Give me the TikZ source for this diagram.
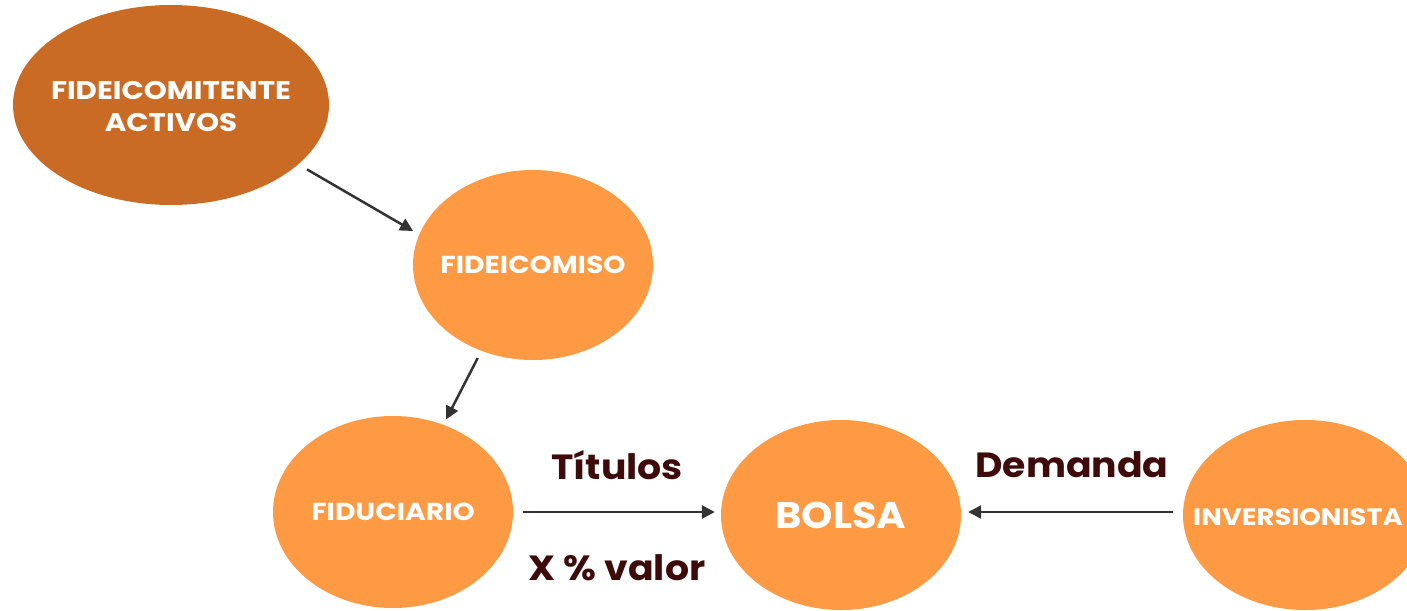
\documentclass[tikz,border=0pt]{standalone}
\usepackage{fontspec}
\setmainfont{Poppins}
\newfontfamily\capsfont{Poppins}[FakeStretch=1.15]
\newfontfamily\lblfont{Poppins}[FakeStretch=1.08]
\usetikzlibrary{shapes.geometric,arrows.meta}
\definecolor{darkor}{HTML}{C96B25}
\definecolor{lightor}{HTML}{FF9A44}
\definecolor{maroon}{HTML}{3F0A0A}
\definecolor{arrowc}{HTML}{333333}
\newcommand{\zb}[1]{\makebox[0pt]{#1}}
\tikzset{
  blob/.style={ellipse, inner sep=0pt, text=white, align=center},
  conn/.style={draw=arrowc, line width=2.5pt, -{Triangle[length=13pt,width=13pt]}},
  lbl/.style={text=maroon, font=\lblfont\fontsize{35}{40}\selectfont\bfseries, inner sep=0pt}
}
\begin{document}
\begin{tikzpicture}[x=1pt,y=-1pt]
\useasboundingbox (0,0) rectangle (1407,610);
\clip (0,0) rectangle (1407,610);
\node[blob, fill=darkor, minimum width=316pt, minimum height=200pt, font=\capsfont\fontsize{25.5}{32}\selectfont\bfseries] (fc) at (171,105) {};
\node[text=white, align=center, inner sep=0pt, font=\capsfont\fontsize{25.5}{32}\selectfont\bfseries] (fct) at (171,107) {FIDEICOMITENTE\\ACTIVOS};
\node[blob, fill=lightor, minimum width=240pt, minimum height=190pt, font=\capsfont\fontsize{24.5}{26}\selectfont\bfseries] (fm) at (533,265) {\zb{FIDEICOMISO}};
\node[blob, fill=lightor, minimum width=240pt, minimum height=192pt, font=\capsfont\fontsize{24.5}{26}\selectfont\bfseries] (fd) at (393,512) {\zb{\raisebox{-2pt}{FIDUCIARIO}}};
\node[blob, fill=lightor, minimum width=240pt, minimum height=190pt, font=\lblfont\fontsize{37}{40}\selectfont\bfseries] (bo) at (841,515) {\zb{BOLSA}};
\node[blob, fill=lightor, minimum width=244pt, minimum height=190pt] (iv) at (1305,515) {};
\node[text=white, font=\capsfont\fontsize{23.8}{28}\selectfont\bfseries, anchor=west, inner sep=0pt] (ivt) at (1193,517) {INVERSIONISTA};
\draw[conn, shorten <=10pt, shorten >=7pt] (fc.-25) -- (fm.165);
\draw[conn, shorten <=8pt, shorten >=6pt] (fm.-121) -- (fd.60);
\draw[conn, shorten <=10pt, shorten >=6pt] (fd.east) -- (bo.west |- fd.east);
\draw[conn, shorten <=10pt, shorten >=7pt] (iv.west |- fd.east) -- (bo.east |- fd.east);
\node[lbl] (ti) at (617,465) {Títulos};
\node[lbl] (xv) at (617,568) {X \% valor};
\node[lbl] (de) at (1072,465) {Demanda};
\end{tikzpicture}
\end{document}
